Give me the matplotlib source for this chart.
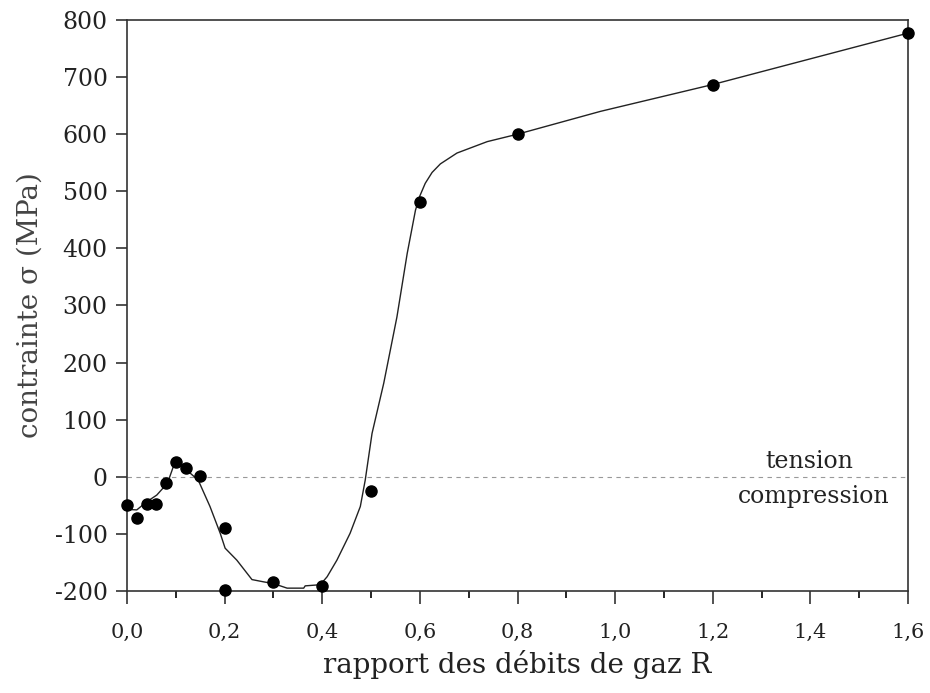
import matplotlib.pyplot as plt
from matplotlib.ticker import MultipleLocator, FuncFormatter

# measured points (R, sigma in MPa)
R = [0.0, 0.02, 0.04, 0.06, 0.08, 0.10, 0.12, 0.15, 0.20, 0.20,
     0.30, 0.40, 0.50, 0.60, 0.80, 1.20, 1.60]
sigma = [-50, -72, -48, -48, -10, 26, 16, 2, -90, -198,
         -184, -192, -25, 482, 600, 687, 777]

# fitted curve
curve_R = [0.0, 0.02, 0.04, 0.061, 0.083, 0.095, 0.103, 0.122, 0.146, 0.170,
           0.191, 0.201, 0.225, 0.256, 0.280, 0.30, 0.328, 0.362, 0.365, 0.396,
           0.41, 0.43, 0.457, 0.478, 0.488, 0.495, 0.502, 0.526, 0.553, 0.574,
           0.591, 0.60, 0.611, 0.625, 0.642, 0.676, 0.738, 0.80, 0.868, 0.97,
           1.2, 1.6]
curve_sigma = [-57, -58, -44, -32, -11, 18, 24, 12, -6, -52,
               -99, -125, -146, -180, -184, -187, -195, -195, -191, -189,
               -175, -146, -99, -52, -6, 35, 76, 164, 280, 391,
               467, 492, 514, 533, 548, 567, 587, 600, 616, 640,
               687, 777]

serif = "DejaVu Serif"

fig = plt.figure(figsize=(9.30, 6.93), dpi=100)
ax = fig.add_axes([127 / 930, 1 - 591 / 693, 781 / 930, 571 / 693])

ax.axhline(0, color="#999999", linestyle=(0, (4, 4)), linewidth=0.8, zorder=1)
ax.plot(curve_R, curve_sigma, color="#222222", linewidth=1.0, zorder=2)
ax.plot(R, sigma, "o", color="black", markersize=8, zorder=3, clip_on=False)

ax.set_xlim(0, 1.6)
ax.set_ylim(-200, 800)
ax.xaxis.set_major_locator(MultipleLocator(0.2))
ax.xaxis.set_minor_locator(MultipleLocator(0.1))
ax.yaxis.set_major_locator(MultipleLocator(100))
ax.xaxis.set_major_formatter(FuncFormatter(lambda v, p: f"{v:.1f}".replace(".", ",")))
ax.yaxis.set_major_formatter(FuncFormatter(lambda v, p: f"{v:.0f}"))

ax.tick_params(axis="both", direction="out", colors="#333333", labelcolor="#222222")
ax.tick_params(axis="x", which="major", length=9, width=1.2, pad=14, labelsize=15)
ax.tick_params(axis="x", which="minor", length=5, width=1.2)
ax.tick_params(axis="y", which="major", length=8, width=1.2, pad=6, labelsize=17)
for lab in ax.get_xticklabels() + ax.get_yticklabels():
    lab.set_family(serif)

for s in ax.spines.values():
    s.set_color("#333333")
    s.set_linewidth(1.2)

ax.set_xlabel("rapport des débits de gaz R", family=serif, fontsize=20,
              color="#222222", labelpad=6)
ax.set_ylabel("contrainte σ (MPa)", family=serif, fontsize=20,
              color="#444444", labelpad=8)

ax.text(1.398, 26, "tension", family=serif, fontsize=17, ha="center",
        va="center", color="#222222")
ax.text(1.406, -35, "compression", family=serif, fontsize=17, ha="center",
        va="center", color="#222222")

fig.savefig("out.png", dpi=100)
